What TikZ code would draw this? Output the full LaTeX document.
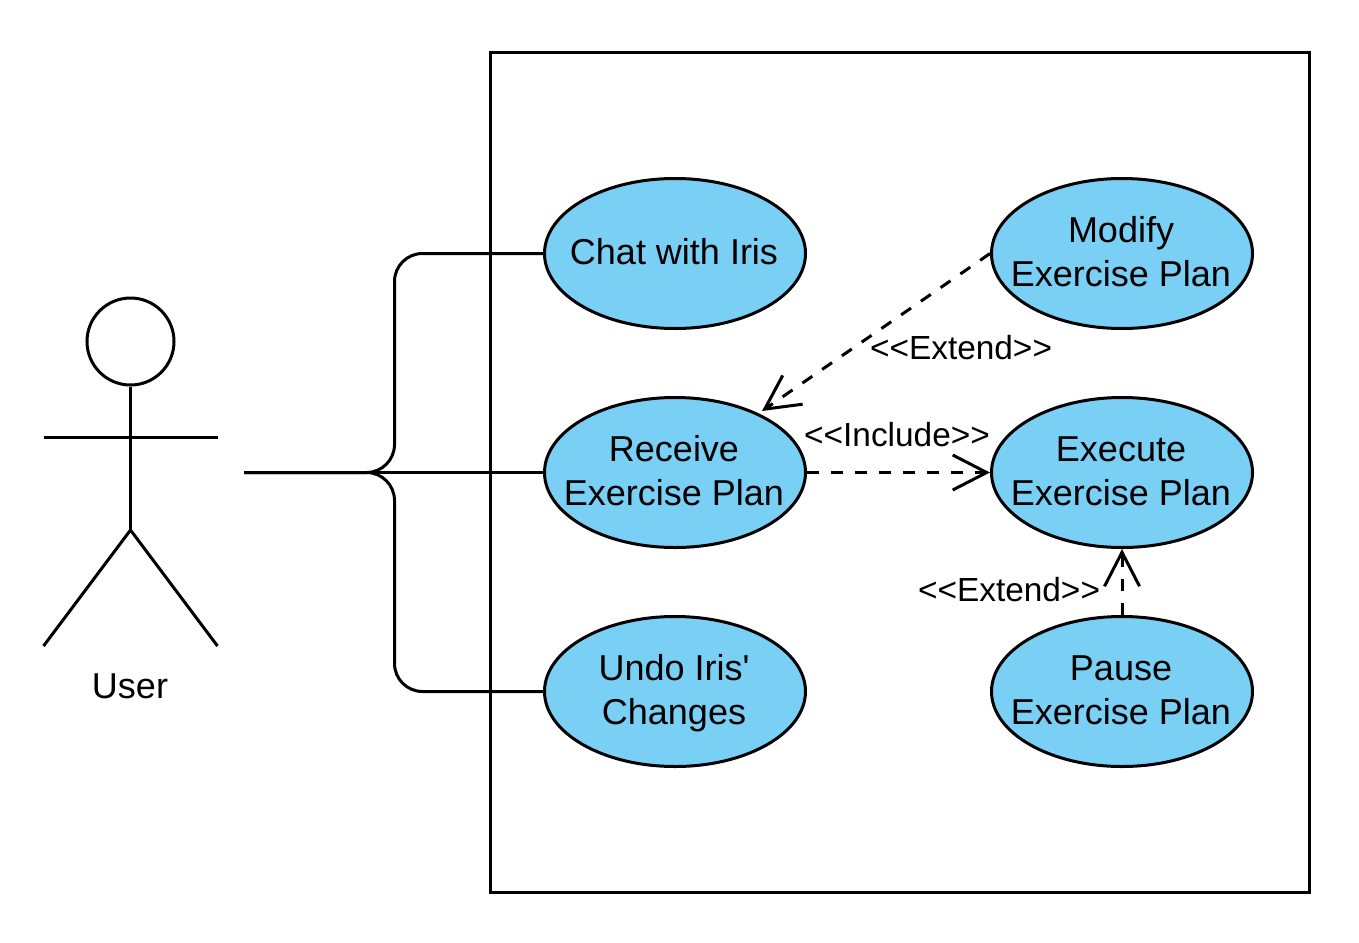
\documentclass[tikz,border=0pt]{standalone}
\usepackage{fontspec}
\newfontfamily\uf{Liberation Sans}
\usetikzlibrary{shapes.geometric,arrows.meta}
\definecolor{uc}{HTML}{7ACFF5}
\newcommand\uctext[1]{\raisebox{-8pt}[0pt][0pt]{\makebox[0pt]{\kern-2pt\begin{tabular}{@{}c@{}}#1\end{tabular}}}}
\tikzset{
 x=1pt,y=-1pt,
 uc/.style={ellipse,draw=black,fill=uc,line width=3pt,minimum width=261pt,minimum height=150pt,inner sep=0pt,align=center,font=\uf\fontsize{36}{44}\selectfont,text=black},
 line/.style={line width=3pt,black},
 dep/.style={line width=3pt,black,dash pattern=on 12pt off 12pt,-{Straight Barb[length=34pt,width=35pt,line width=3pt]}},
 lab/.style={font=\uf\fontsize{33.4}{40}\selectfont,inner sep=0pt,text=black},
}
\begin{document}
\begin{tikzpicture}
\useasboundingbox (0,0) rectangle (1359,942);
\fill[white] (0,0) rectangle (1359,942);
\node[draw,line width=3pt,minimum width=819pt,minimum height=840pt,inner sep=0pt] (sys) at (900,472.5) {};
\node[uc] (chat) at (675,253.5) {\uctext{Chat with Iris}};
\node[uc] (recv) at (675,472.5) {\uctext{Receive\\Exercise Plan}};
\node[uc] (undo) at (675,691.5) {\uctext{Undo Iris'\\Changes}};
\node[uc] (mod) at (1122,253.5) {\uctext{Modify\\Exercise Plan}};
\node[uc] (exec) at (1122,472.5) {\uctext{Execute\\Exercise Plan}};
\node[uc] (pause) at (1122,691.5) {\uctext{Pause\\Exercise Plan}};
\node[circle,draw,line width=3pt,minimum size=87pt,inner sep=0pt] (head) at (130.5,341.5) {};
\coordinate (hip) at (130.5,530);
\coordinate (armL) at (43.5,437.5);
\coordinate (armR) at (217.5,437.5);
\coordinate (legL) at (43.5,646);
\coordinate (legR) at (217.5,646);
\draw[line] (head.south) -- (hip);
\draw[line] (armL) -- (armR);
\draw[line] (legL) -- (hip) -- (legR);
\node[font=\uf\fontsize{36}{40}\selectfont,inner sep=0pt] (user) at (130,686) {User};
\coordinate (src) at (244,472.5);
\draw[line] (src) -- (recv.west);
\draw[line,rounded corners=28pt] (src) -- (394.5,472.5) -- (394.5,253.5) -- (chat.west);
\draw[line,rounded corners=28pt] (src) -- (394.5,472.5) -- (394.5,691.5) -- (undo.west);
\draw[dep] (mod.west) -- (762,411);
\draw[dep] (recv.east) -- (exec.west);
\draw[dep] (pause.north) -- (exec.south);
\node[lab] (l1) at (961,348) {<{}<Extend>{}>};
\node[lab] (l2) at (897,435) {<{}<Include>{}>};
\node[lab] (l3) at (1009,590) {<{}<Extend>{}>};
\end{tikzpicture}
\end{document}
